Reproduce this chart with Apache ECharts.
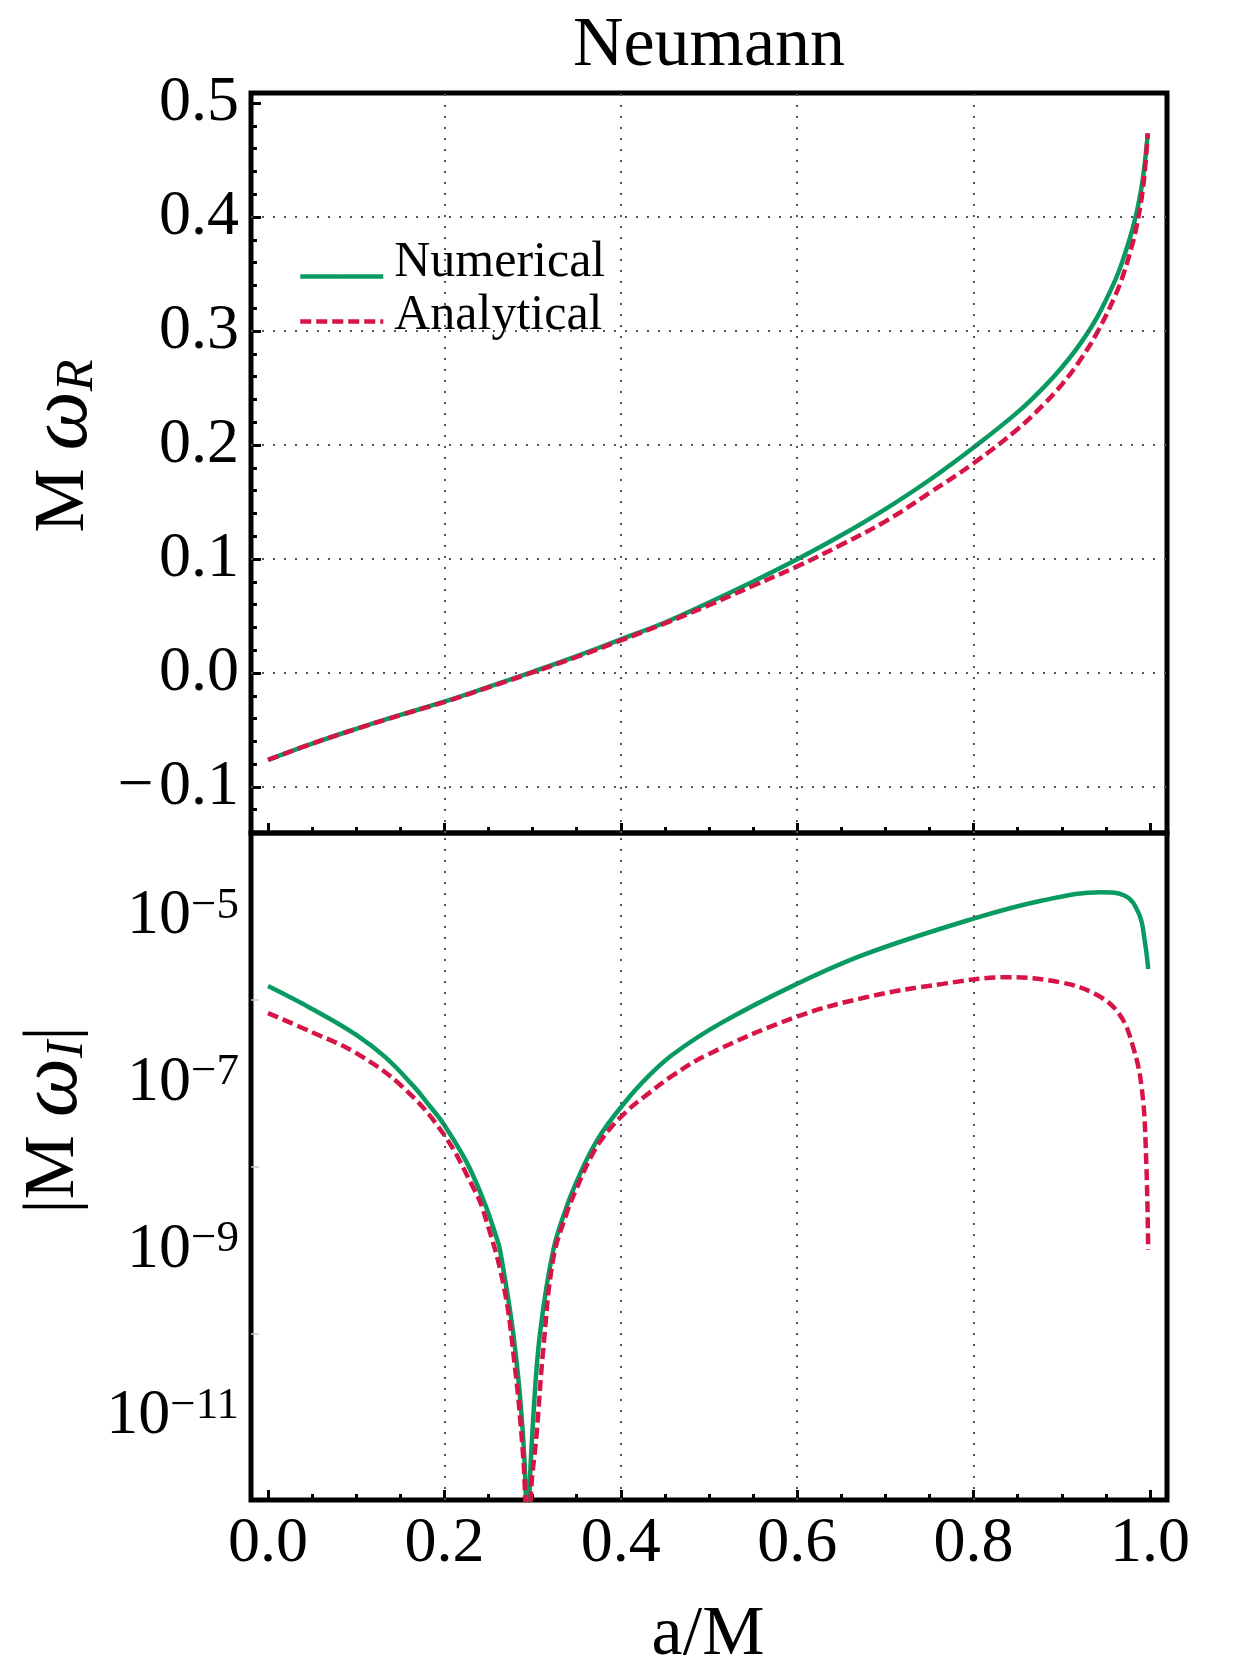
<!DOCTYPE html>
<html lang="en">
<head>
<meta charset="UTF-8">
<title>Neumann</title>
<script src="https://cdn.jsdelivr.net/npm/echarts@6/dist/echarts.min.js"></script>
<style type="text/css">
  html, body { margin:0; padding:0; background:#fff; }
  #chart { width:1250px; height:1667px; }
</style>
</head>
<body>
<div id="chart"></div>
<script type="text/javascript">
// top panel : M omega_R vs a/M
var aTop  = [0, 0.05, 0.1, 0.15, 0.2, 0.25, 0.3, 0.35, 0.4, 0.45, 0.5, 0.55, 0.6, 0.65, 0.7, 0.75, 0.8, 0.85, 0.88, 0.9, 0.92, 0.94, 0.96, 0.97, 0.98, 0.985, 0.99, 0.994, 0.9975];
var reNum = [-0.0763, -0.0620, -0.0490, -0.0368, -0.0252, -0.0123, 0.0010, 0.0148, 0.0295, 0.0443, 0.0618, 0.0803, 0.0998, 0.1208, 0.1438, 0.1693, 0.1978, 0.2288, 0.2510, 0.2680, 0.2878, 0.3120, 0.3435, 0.3640, 0.3890, 0.4045, 0.4240, 0.4465, 0.4734];
var reAna = [-0.0763, -0.0620, -0.0491, -0.0370, -0.0255, -0.0127, 0.0005, 0.0140, 0.0285, 0.0435, 0.0595, 0.0765, 0.0935, 0.1125, 0.1330, 0.1580, 0.1840, 0.2140, 0.2360, 0.2530, 0.2735, 0.2985, 0.3300, 0.3500, 0.3760, 0.3925, 0.4140, 0.4390, 0.4734];

// bottom panel : |M omega_I| (log scale)
var aImNum = [0, 0.05, 0.1, 0.133, 0.166, 0.18, 0.199, 0.2253, 0.246, 0.259, 0.263, 0.278, 0.2876, 0.2925, 0.2945, 0.2963, 0.3008, 0.3084, 0.3235, 0.339, 0.35, 0.3655, 0.38, 0.4054, 0.43, 0.4586, 0.512, 0.5997, 0.678, 0.799, 0.878, 0.944, 0.971, 0.9875, 0.994, 0.998];
var imNum  = [1.459e-6, 7.76e-7, 3.80e-7, 2.05e-7, 8.95e-8, 5.89e-8, 3.24e-8, 1.12e-8, 3.55e-9, 1.41e-9, 1.0e-9, 1.0e-10, 1.0e-11, 1.0e-12, 1.0e-14, 1.0e-12, 1.0e-11, 1.0e-10, 1.0e-9, 3.39e-9, 6.61e-9, 1.48e-8, 2.69e-8, 6.03e-8, 1.17e-7, 2.19e-7, 5.13e-7, 1.55e-6, 3.55e-6, 9.33e-6, 1.55e-5, 1.95e-5, 1.78e-5, 1.07e-5, 5.13e-6, 2.34e-6];
var aImAna = [0, 0.05, 0.1, 0.153, 0.199, 0.2326, 0.244, 0.2668, 0.28, 0.2888, 0.2915, 0.294, 0.2977, 0.3046, 0.312, 0.3235, 0.339, 0.35, 0.3655, 0.38, 0.4054, 0.432, 0.4586, 0.5, 0.598, 0.678, 0.765, 0.838, 0.898, 0.938, 0.965, 0.981, 0.991, 0.9956, 0.998];
var imAna  = [6.92e-7, 4.07e-7, 2.29e-7, 8.91e-8, 2.45e-8, 5.62e-9, 2.95e-9, 3.89e-10, 3.89e-11, 3.89e-12, 1.0e-12, 1.0e-14, 1.0e-12, 6.31e-12, 6.31e-11, 7.94e-10, 2.82e-9, 5.50e-9, 1.26e-8, 2.24e-8, 4.47e-8, 7.59e-8, 1.23e-7, 2.24e-7, 6.17e-7, 1.07e-6, 1.55e-6, 1.86e-6, 1.62e-6, 1.17e-6, 6.76e-7, 2.69e-7, 8.13e-8, 1.29e-8, 1.0e-9];

// ticks
var xMajorTicks = [0, 0.2, 0.4, 0.6, 0.8, 1.0];
var xMinorTicks = [0, 0.05, 0.1, 0.15, 0.2, 0.25, 0.3, 0.35, 0.4, 0.45, 0.5, 0.55, 0.6, 0.65, 0.7, 0.75, 0.8, 0.85, 0.9, 0.95, 1.0];
var xGrid = [0.2, 0.4, 0.6, 0.8];
var yTopMajor = [-0.1, 0, 0.1, 0.2, 0.3, 0.4, 0.5];
var yTopMinor = [-0.14, -0.12, -0.1, -0.08, -0.06, -0.04, -0.02, 0, 0.02, 0.04, 0.06, 0.08, 0.1, 0.12, 0.14, 0.16, 0.18, 0.2, 0.22, 0.24, 0.26, 0.28, 0.3, 0.32, 0.34, 0.36, 0.38, 0.4, 0.42, 0.44, 0.46, 0.48, 0.5];
var yTopGrid = [-0.1, 0, 0.1, 0.2, 0.3, 0.4];
var yLogLabels = [1e-11, 1e-9, 1e-7, 1e-5];
var yLogMinor = [1e-10, 1e-8, 1e-6];

var XMIN = -0.0193, XMAX = 1.0193;
var YMIN = -0.1404, YMAX = 0.5088;
var SERIF = '"Liberation Serif", "Times New Roman", "DejaVu Serif", serif';
var GREEN = '#089a60', RED = '#d71446';
var LW = 4.5;

function pairs(xs, ys) { return xs.map(function (x, i) { return [x, ys[i]]; }); }
function minus(v) { return v < 0 ? '\u2212\u200A' + (-v).toFixed(1) : v.toFixed(1); }

var myChart = echarts.init(document.getElementById('chart'), null, { renderer: 'canvas' });

function tickAxis(grid, len, vals, extra) {
  var o = {
    gridIndex: grid, type: 'value', min: XMIN, max: XMAX, position: 'bottom',
    axisLine: { show: false, onZero: false }, splitLine: { show: false },
    axisLabel: { show: false },
    axisTick: { show: true, inside: true, length: len, customValues: vals, lineStyle: { color: '#000', width: 3 } }
  };
  return Object.assign(o, extra || {});
}

function legendItem(name, top, padBottom) {
  return {
    data: [name], left: 298, top: top, orient: 'vertical', padding: 0, itemWidth: 83, itemHeight: 4,
    selectedMode: false, lineStyle: { width: LW },
    textStyle: { fontSize: 50, fontFamily: SERIF, color: '#000',
      rich: { t: { fontSize: 50, fontFamily: SERIF, color: '#000', lineHeight: 50, padding: [0, 0, padBottom, 6] } } },
    formatter: function (n) { return '{t|' + n + '}'; }
  };
}

var dotted = { color: '#555', type: [2, 9], width: 2 };
var titleRich = {
  m: { fontSize: 72, fontFamily: SERIF, fill: '#000', lineHeight: 80 },
  w: { fontSize: 84, fontFamily: SERIF, fontStyle: 'italic', fill: '#000', lineHeight: 80 },
  s: { fontSize: 52, fontFamily: SERIF, fontStyle: 'italic', fill: '#000', lineHeight: 46, verticalAlign: 'bottom' }
};

option = {
  animation: false,
  backgroundColor: '#fff',
  grid: [
    { left: 251, top: 93, width: 916, height: 740, show: true, borderColor: '#000', borderWidth: 5, backgroundColor: 'transparent' },
    { left: 251, top: 833, width: 916, height: 667, show: true, borderColor: '#000', borderWidth: 5, backgroundColor: 'transparent' }
  ],
  xAxis: [
    tickAxis(0, 6, xMinorTicks),
    tickAxis(0, 10, xMajorTicks),
    tickAxis(1, 6, xMinorTicks),
    tickAxis(1, 10, xMajorTicks, {
      axisLabel: { show: true, customValues: xMajorTicks, margin: 12, fontSize: 64, fontFamily: SERIF, color: '#000',
        formatter: function (v) { return v.toFixed(1); } }
    })
  ],
  yAxis: [
    { gridIndex: 0, type: 'value', min: YMIN, max: YMAX, position: 'left',
      axisLine: { show: false, onZero: false }, splitLine: { show: false }, axisLabel: { show: false },
      axisTick: { inside: true, length: 6, customValues: yTopMinor, lineStyle: { color: '#000', width: 3 } } },
    { gridIndex: 0, type: 'value', min: YMIN, max: YMAX, position: 'left',
      axisLine: { show: false, onZero: false }, splitLine: { show: false },
      axisTick: { inside: true, length: 10, customValues: yTopMajor, lineStyle: { color: '#000', width: 3 } },
      axisLabel: { customValues: yTopMajor, margin: 12, fontSize: 64, fontFamily: SERIF, color: '#000', formatter: minus } },
    { gridIndex: 1, type: 'log', logBase: 10, min: 1e-12, max: 1e-4, position: 'left',
      axisLine: { show: false, onZero: false }, splitLine: { show: false },
      axisTick: { inside: true, length: 8, customValues: yLogMinor, lineStyle: { color: '#cccccc', width: 1.5 } },
      axisLabel: {
        customValues: yLogLabels, margin: 12, color: '#000',
        formatter: function (v) {
          var e = Math.round(Math.log(v) / Math.LN10);
          return '{b|10}{e|\u2212' + (-e) + '}';
        },
        rich: {
          b: { fontSize: 64, fontFamily: SERIF, color: '#000', lineHeight: 66 },
          e: { fontSize: 45, fontFamily: SERIF, color: '#000', lineHeight: 36, verticalAlign: 'top' }
        }
      } }
  ],
  legend: [
    legendItem('Numerical', 238, 27),
    legendItem('Analytical', 291, 11)
  ],
  graphic: [
    { type: 'text', x: 709, y: 47, style: { text: 'Neumann', font: '70px ' + SERIF, fill: '#000', textAlign: 'center', textVerticalAlign: 'middle' } },
    { type: 'text', x: 708, y: 1636, style: { text: 'a/M', font: '70px ' + SERIF, fill: '#000', textAlign: 'center', textVerticalAlign: 'middle' } },
    { type: 'text', x: 64, y: 446, rotation: Math.PI / 2,
      style: { text: '{m|M }{w|\u03c9}{s|R}', textAlign: 'center', textVerticalAlign: 'middle', rich: titleRich } },
    { type: 'text', x: 54, y: 1120, rotation: Math.PI / 2,
      style: { text: '{m||M }{w|\u03c9}{s|I}{m||}', textAlign: 'center', textVerticalAlign: 'middle', rich: titleRich } }
  ],
  series: [
    // grid lines of the top panel
    { type: 'line', name: 'gridTop', xAxisIndex: 1, yAxisIndex: 1, data: [], z: 1, silent: true,
      markLine: { symbol: ['none', 'none'], silent: true, animation: false, label: { show: false }, lineStyle: dotted,
        emphasis: { disabled: true },
        data: xGrid.map(function (v) { return { xAxis: v }; }).concat(yTopGrid.map(function (v) { return { yAxis: v }; })) } },
    // grid lines of the bottom panel
    { type: 'line', name: 'gridLow', xAxisIndex: 3, yAxisIndex: 2, data: [], z: 1, silent: true,
      markLine: { symbol: ['none', 'none'], silent: true, animation: false, label: { show: false },
        emphasis: { disabled: true },
        data: xGrid.map(function (v) { return { xAxis: v, lineStyle: dotted }; })
          .concat(yLogLabels.map(function (v) { return { yAxis: v, lineStyle: { color: '#bdbdbd', type: [5, 5], width: 1.5 } }; })) } },
    { type: 'line', name: 'Numerical', xAxisIndex: 1, yAxisIndex: 1, data: pairs(aTop, reNum), symbol: 'none',
      smooth: 0.4, z: 3, lineStyle: { color: GREEN, width: LW }, itemStyle: { color: GREEN } },
    { type: 'line', name: 'Analytical', xAxisIndex: 1, yAxisIndex: 1, data: pairs(aTop, reAna), symbol: 'none',
      smooth: 0.4, z: 4, lineStyle: { color: RED, width: LW, type: [11, 5] }, itemStyle: { color: RED } },
    { type: 'line', name: 'Numerical', xAxisIndex: 3, yAxisIndex: 2, data: pairs(aImNum, imNum), symbol: 'none',
      smooth: 0.4, z: 3, lineStyle: { color: GREEN, width: LW }, itemStyle: { color: GREEN } },
    { type: 'line', name: 'Analytical', xAxisIndex: 3, yAxisIndex: 2, data: pairs(aImAna, imAna), symbol: 'none',
      smooth: 0.4, z: 4, lineStyle: { color: RED, width: LW, type: [11, 5] }, itemStyle: { color: RED } }
  ]
};
myChart.setOption(option);
</script>
</body>
</html>
